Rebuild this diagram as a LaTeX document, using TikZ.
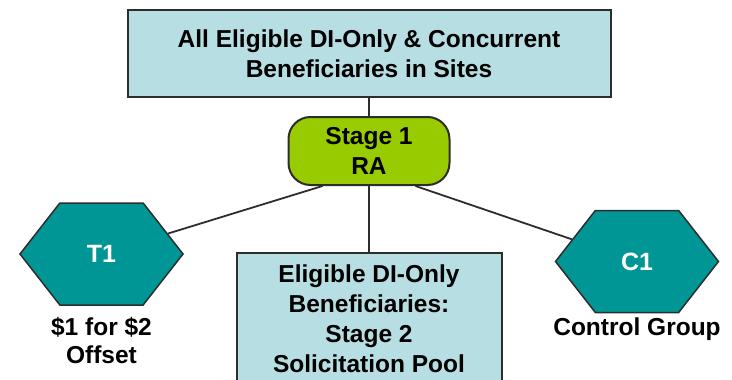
\documentclass[tikz,border=0pt]{standalone}
\usepackage{fontspec}
\setmainfont{Liberation Sans}
\usetikzlibrary{shapes.symbols}

\definecolor{boxblue}{RGB}{183,222,226}
\definecolor{ragreen}{RGB}{153,204,0}
\definecolor{hexteal}{RGB}{0,150,150}
\definecolor{edgegray}{RGB}{45,45,45}

\tikzset{
    bluebox/.style={draw=edgegray, line width=2pt, fill=boxblue, align=center, inner sep=0pt, font=\bfseries\fontsize{24.5}{30}\selectfont},
    rabox/.style={draw=edgegray, line width=2pt, fill=ragreen, rounded corners=22pt, align=center, inner sep=0pt, font=\bfseries\fontsize{24.5}{30}\selectfont},
    hexbox/.style={signal, signal to=east and west, signal pointer angle=104, draw=edgegray, line width=1.5pt, fill=hexteal, text=white, inner sep=0pt, minimum width=163pt, minimum height=102pt, font=\bfseries\fontsize{25}{30}\selectfont},
    grouplabel/.style={align=center, inner sep=0pt, font=\bfseries\fontsize{24.5}{28}\selectfont},
    link/.style={draw=edgegray, line width=1.8pt}
}

\begin{document}
\begin{tikzpicture}[x=1pt, y=-1pt]
                \useasboundingbox (0,0) rectangle (732,380);

                \node[bluebox, minimum width=483pt, minimum height=87pt] (all) at (369,53.5) {All Eligible DI-Only \& Concurrent\\Beneficiaries in Sites};

                \node[rabox, minimum width=161pt, minimum height=68pt] (ra) at (369,151) {Stage 1\\RA};

                \node[hexbox] (t1) at (101.5,254) {T1};

                \node[hexbox] (c1) at (637,261.5) {C1};

                \node[bluebox, minimum width=265pt, minimum height=131pt] (pool) at (369,318.5) {Eligible DI-Only\\Beneficiaries:\\Stage 2\\Solicitation Pool};

                \node[grouplabel] (t1lbl) at (101.5,341) {\$1 for \$2\\Offset};

                \node[grouplabel] (c1lbl) at (637,329) {Control Group};

                \draw[link] (all.south) -- (ra.north);

                \draw[link] (ra.south) -- (pool.north);

                \draw[link] (ra.217) -- (t1);

                \draw[link] (ra.323) -- (c1);
            \end{tikzpicture}
\end{document}
